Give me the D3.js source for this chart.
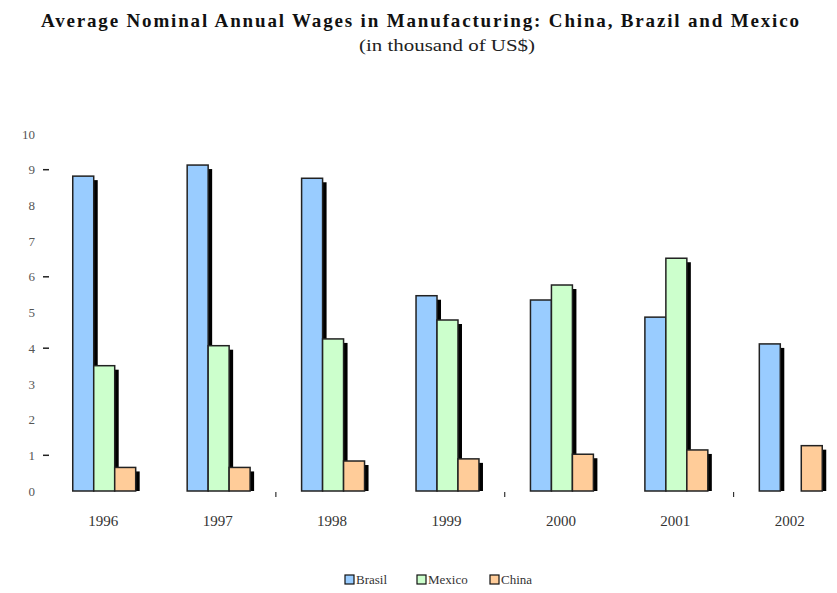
<!DOCTYPE html>
<html>
<head>
<meta charset="utf-8">
<script src="https://cdn.jsdelivr.net/npm/d3@7/dist/d3.min.js"></script>
<style>
  body { margin: 0; background: #fff; }
  text { font-family: "Liberation Serif", "DejaVu Serif", serif; }
</style>
</head>
<body>
<script>
// data (thousand US$)
var years = ["1996", "1997", "1998", "1999", "2000", "2001", "2002"];
var series = ["Brasil", "Mexico", "China"];
var brasil = [8.82, 9.13, 8.76, 5.47, 5.35, 4.87, 4.12];
var mexico = [3.51, 4.07, 4.26, 4.79, 5.77, 6.52, null];
var china  = [0.66, 0.66, 0.84, 0.90, 1.03, 1.15, 1.27];
var yTicks = [0, 1, 2, 3, 4, 5, 6, 7, 8, 9, 10];
var yDashes = [9, 6, 4, 1];

var color = d3.scaleOrdinal()
    .domain(series)
    .range(["#99ccff", "#ccffcc", "#ffcc99"]);

var W = 837, H = 593;
var svg = d3.select("body").append("svg").attr("width", W).attr("height", H);

var x0 = d3.scaleBand()
    .domain(years)
    .range([47, 848])
    .paddingInner(0.45)
    .paddingOuter(0.225);
var x1 = d3.scaleBand()
    .domain(series)
    .range([0, x0.bandwidth()]);
var y = d3.scaleLinear().domain([0, 10]).range([491, 134]);

// title
svg.append("text")
    .attr("x", 420).attr("y", 27)
    .attr("text-anchor", "middle")
    .attr("font-size", 19)
    .attr("font-weight", "bold")
    .attr("textLength", 758)
    .attr("lengthAdjust", "spacing")
    .attr("fill", "#111")
    .text("Average Nominal Annual Wages in Manufacturing: China, Brazil and Mexico");
svg.append("text")
    .attr("x", 447).attr("y", 51)
    .attr("text-anchor", "middle")
    .attr("font-size", 17)
    .attr("textLength", 176)
    .attr("lengthAdjust", "spacingAndGlyphs")
    .attr("fill", "#222")
    .text("(in thousand of  US$)");

// y axis (labels only, no line)
var yAxis = svg.append("g")
    .attr("transform", "translate(35,0)")
    .call(d3.axisLeft(y).tickValues(yTicks).tickSize(0).tickPadding(0));
yAxis.select(".domain").remove();
yAxis.selectAll("text")
    .attr("font-size", 13)
    .attr("font-family", "Liberation Serif, serif")
    .attr("fill", "#555");

svg.selectAll(".ydash")
    .data(yDashes)
    .enter().append("line")
    .attr("x1", 43).attr("x2", 49)
    .attr("y1", function(d) { return y(d); })
    .attr("y2", function(d) { return y(d); })
    .attr("stroke", "#222")
    .attr("stroke-width", 1.5);

// bar data
var rows = [];
years.forEach(function(yr, i) {
    [brasil, mexico, china].forEach(function(arr, j) {
        if (arr[i] != null) rows.push({ year: yr, key: series[j], value: arr[i] });
    });
});

// shadows first
svg.append("g").selectAll("rect")
    .data(rows)
    .enter().append("rect")
    .attr("x", function(d) { return x0(d.year) + x1(d.key) + 4; })
    .attr("y", function(d) { return y(d.value) + 4; })
    .attr("width", x1.bandwidth())
    .attr("height", function(d) { return y(0) - y(d.value) - 4; })
    .attr("fill", "#000");

svg.append("g").selectAll("rect")
    .data(rows)
    .enter().append("rect")
    .attr("x", function(d) { return x0(d.year) + x1(d.key); })
    .attr("y", function(d) { return y(d.value); })
    .attr("width", x1.bandwidth())
    .attr("height", function(d) { return y(0) - y(d.value); })
    .attr("fill", function(d) { return color(d.key); })
    .attr("stroke", "#222")
    .attr("stroke-width", 1.5);

// x axis labels
var xAxis = svg.append("g")
    .attr("transform", "translate(-1,509)")
    .call(d3.axisBottom(x0).tickSize(0).tickPadding(6));
xAxis.select(".domain").remove();
xAxis.selectAll("text")
    .attr("font-size", 15)
    .attr("font-family", "Liberation Serif, serif")
    .attr("fill", "#333");

// small category separators seen under the plot
var sepYears = ["1998", "2000", "2002"];
svg.selectAll(".sep")
    .data(sepYears)
    .enter().append("line")
    .attr("x1", function(d) { return x0(d) - x0.step() * x0.paddingInner() / 2; })
    .attr("x2", function(d) { return x0(d) - x0.step() * x0.paddingInner() / 2; })
    .attr("y1", 492).attr("y2", 497)
    .attr("stroke", "#333")
    .attr("stroke-width", 1.2);

// legend
var lx = [345, 417, 490];
var legend = svg.append("g").selectAll("g")
    .data(series)
    .enter().append("g")
    .attr("transform", function(d, i) { return "translate(" + lx[i] + ",575)"; });
legend.append("rect")
    .attr("width", 9).attr("height", 9)
    .attr("fill", function(d) { return color(d); })
    .attr("stroke", "#111")
    .attr("stroke-width", 1.2);
legend.append("text")
    .attr("x", 11).attr("y", 9)
    .attr("font-size", 13)
    .attr("fill", "#333")
    .text(function(d) { return d; });
</script>
</body>
</html>
